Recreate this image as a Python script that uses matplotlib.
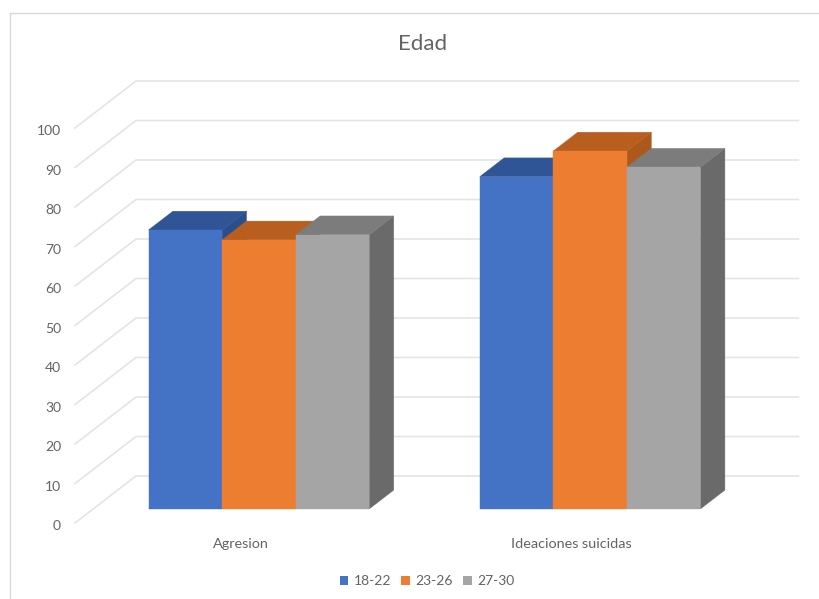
import matplotlib
matplotlib.use('Agg')
from matplotlib import pyplot as plt
from matplotlib.lines import Line2D
from matplotlib.patches import Patch, Polygon
from matplotlib.transforms import ScaledTranslation

# -------------------
# Chart values
# -------------------

categories = ['Agresion', 'Ideaciones suicidas']
series_names = ['18-22', '23-26', '27-30']
values_18_22 = [70.6, 84.1]
values_23_26 = [68.1, 90.6]
values_27_30 = [69.4, 86.5]
y_ticks = [0, 10, 20, 30, 40, 50, 60, 70, 80, 90, 100]

# front, top and side shades of each series
front_colors = ['#4472C4', '#ED7D31', '#A5A5A5']
top_colors = ['#2F5597', '#B85F1F', '#7C7C7C']
side_colors = ['#2B4E8C', '#AD591C', '#6A6A6A']

GRID = '#E4E4E4'
TEXT = '#636363'
BORDER = '#D9D9D9'

W, H = 820, 599

# oblique projection of the depth axis, in x units and value units
DEPTH_X = 61 / 331.2
DEPTH_Y = 47 / 3.95
BAR_W = 73.6 / 331.2
Z_FRONT, Z_BACK = 0.3, 0.7


def project(x, v, z):
    return x + z * DEPTH_X, v + z * DEPTH_Y


def quad(ax, corners, color, zorder):
    pts = [project(*c) for c in corners]
    ax.add_patch(Polygon(pts, closed=True, facecolor=color, edgecolor=color,
                         linewidth=0.3, zorder=zorder))


plt.rcParams['font.family'] = ['Lato', 'DejaVu Sans']

fig = plt.figure(figsize=(W / 100, H / 100), dpi=100)

# the axes run from the front-left floor corner to the top of the back wall
left, right, bottom, top = 75, 800, 523, 81
ax = fig.add_axes([left / W, 1 - bottom / H, (right - left) / W, (bottom - top) / H])
ax.set_xlim(-0.5, -0.5 + (right - left) / 331.2)
ax.set_ylim(0, (bottom - top) / 3.95)
ax.patch.set_visible(False)
for spine in ax.spines.values():
    spine.set_visible(False)

x_end = 1.5

# gridlines: diagonal on the side wall, then across the back wall
for v in y_ticks:
    xs, ys = zip(project(-0.5, v, 0), project(-0.5, v, 1), project(x_end, v, 1))
    ax.plot(xs, ys, color=GRID, lw=1.2, zorder=1, clip_on=False)

# bars, left to right so each one covers the side of the previous one
all_values = [values_18_22, values_23_26, values_27_30]
order = 2
for i in range(len(categories)):
    for j, vals in enumerate(all_values):
        v = vals[i]
        x0 = i + (j - 1.5) * BAR_W
        x1 = x0 + BAR_W
        quad(ax, [(x1, 0, Z_FRONT), (x1, 0, Z_BACK), (x1, v, Z_BACK), (x1, v, Z_FRONT)],
             side_colors[j], order)
        quad(ax, [(x0, v, Z_FRONT), (x1, v, Z_FRONT), (x1, v, Z_BACK), (x0, v, Z_BACK)],
             top_colors[j], order + 1)
        quad(ax, [(x0, 0, Z_FRONT), (x1, 0, Z_FRONT), (x1, v, Z_FRONT), (x0, v, Z_FRONT)],
             front_colors[j], order + 2)
        order += 3

ax.set_yticks(y_ticks)
ax.set_xticks(range(len(categories)))
ax.set_xticklabels(categories)
ax.tick_params(axis='y', length=0, pad=10, labelsize=10, labelcolor=TEXT)
ax.tick_params(axis='x', length=0, pad=10.8, labelsize=10.4, labelcolor=TEXT)

# value labels sit a little below the start of their gridline
shift = ScaledTranslation(0, -2.5 / 100, fig.dpi_scale_trans)
for lab in ax.get_yticklabels():
    lab.set_transform(lab.get_transform() + shift)

fig.text(423 / W, 1 - 44 / H, 'Edad', ha='center', va='center', fontsize=16, color=TEXT)

handles = [Patch(facecolor=c, edgecolor='none') for c in front_colors]
fig.legend(handles, series_names, ncols=3, loc='center', bbox_to_anchor=(427 / W, 1 - 581 / H),
           frameon=False, fontsize=10, labelcolor=TEXT, handlelength=0.6, handleheight=0.6,
           handletextpad=0.4, columnspacing=0.75)

# chart frame, only its top and left edges fall inside the figure
fig.add_artist(Line2D([10.5 / W, 10.5 / W, 1], [0, 1 - 12.5 / H, 1 - 12.5 / H],
                      color=BORDER, lw=1.0))

fig.savefig('out.png', dpi=100)
